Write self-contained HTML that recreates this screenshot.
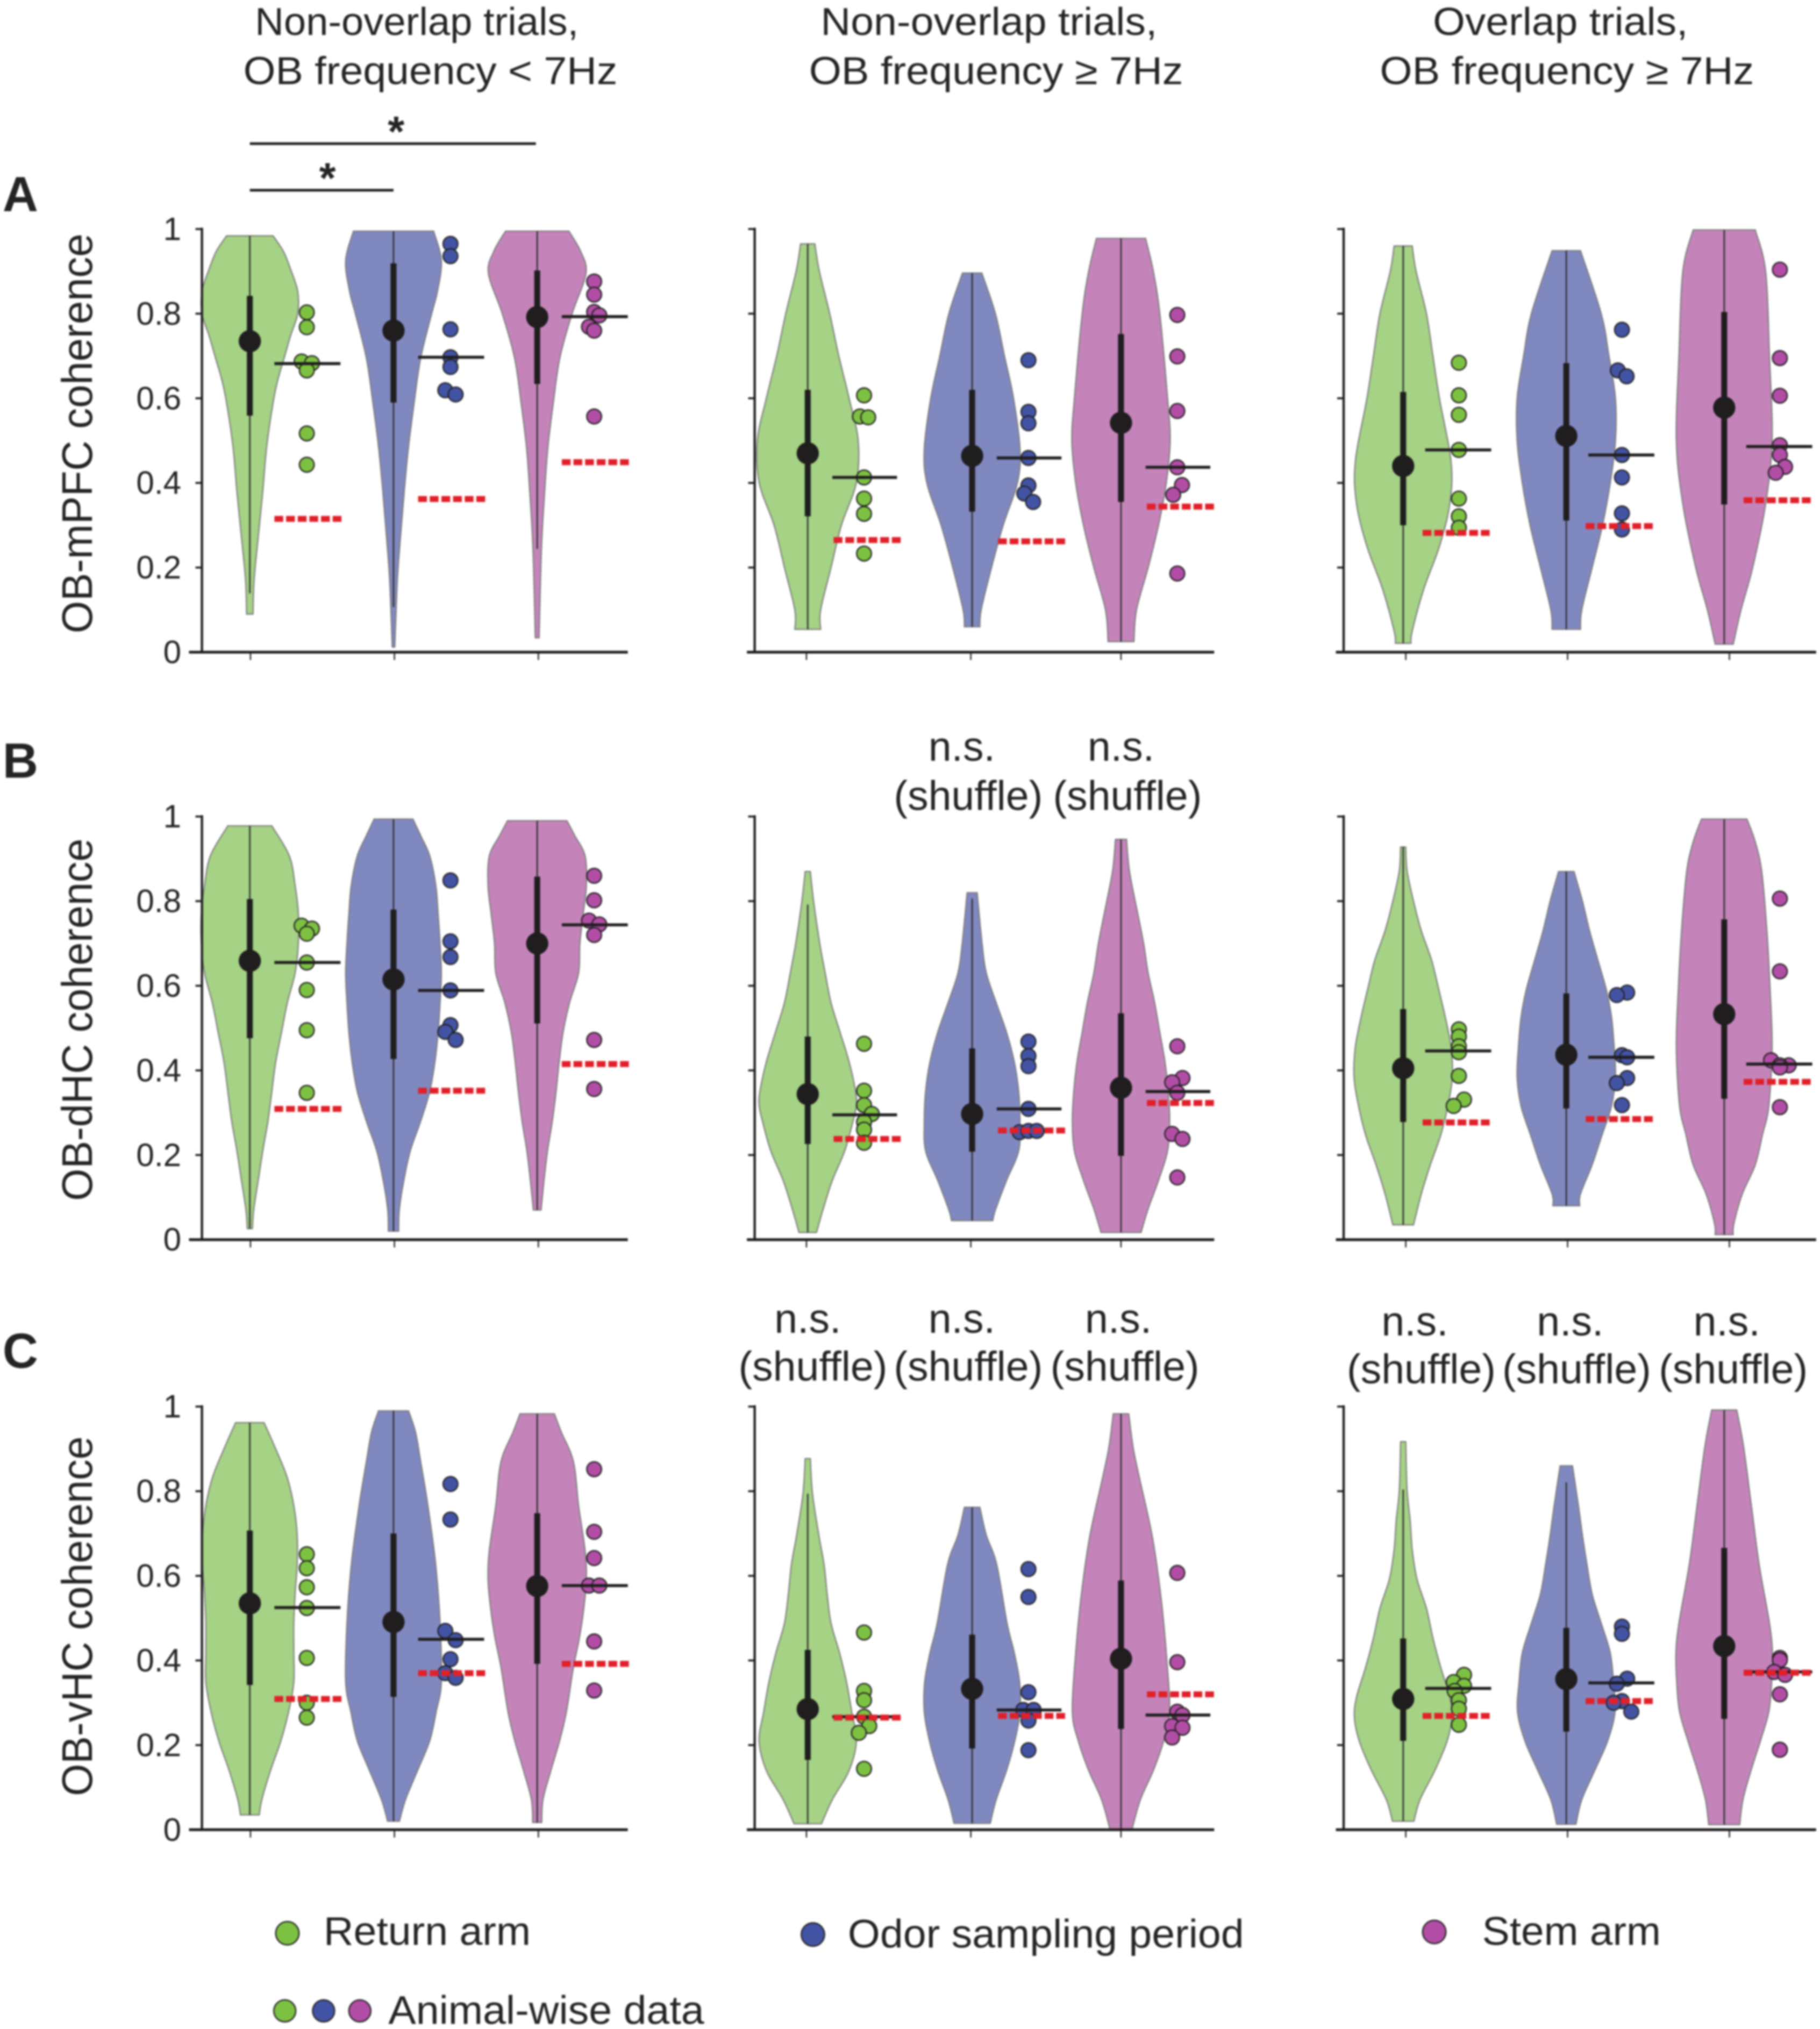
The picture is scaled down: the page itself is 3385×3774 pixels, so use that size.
<!DOCTYPE html>
<html lang="en">
<head>
<meta charset="utf-8">
<title>OB coherence violin plots</title>
<style>
html,body{margin:0;padding:0;background:#fff;}
svg{display:block;filter:blur(1.5px);}
text{font-family:"Liberation Sans",sans-serif;fill:#262324;}
</style>
</head>
<body>
<svg id="chart" xmlns="http://www.w3.org/2000/svg" width="3385" height="3774" viewBox="0 0 1406 1568" preserveAspectRatio="none">
<rect x="0" y="0" width="1406" height="1568" fill="#fff"/>
<g font-size="30">
<text x="197" y="27" textLength="250" lengthAdjust="spacingAndGlyphs">Non-overlap trials,</text>
<text x="188" y="65" textLength="289" lengthAdjust="spacingAndGlyphs">OB frequency &lt; 7Hz</text>
<text x="634" y="27" textLength="260" lengthAdjust="spacingAndGlyphs">Non-overlap trials,</text>
<text x="625" y="65" textLength="289" lengthAdjust="spacingAndGlyphs">OB frequency ≥ 7Hz</text>
<text x="1107" y="27" textLength="197" lengthAdjust="spacingAndGlyphs">Overlap trials,</text>
<text x="1066" y="65" textLength="289" lengthAdjust="spacingAndGlyphs">OB frequency ≥ 7Hz</text>
</g>
<g font-size="38" font-weight="700">
<text x="2" y="163">A</text>
<text x="2" y="601">B</text>
<text x="2" y="1057">C</text>
</g>
<g>
<line x1="193" y1="111" x2="414" y2="111" stroke="#1f1d1e" stroke-width="2"/>
<line x1="193" y1="147" x2="304" y2="147" stroke="#1f1d1e" stroke-width="2"/>
<text x="306" y="113" font-size="33" font-weight="700" text-anchor="middle">*</text>
<text x="253" y="149" font-size="33" font-weight="700" text-anchor="middle">*</text>
</g>
<g font-size="32" text-anchor="middle">
<text x="743" y="588">n.s.</text>
<text x="748" y="626">(shuffle)</text>
<text x="866" y="588">n.s.</text>
<text x="871" y="626">(shuffle)</text>
<text x="624" y="1030">n.s.</text>
<text x="628" y="1067">(shuffle)</text>
<text x="743" y="1030">n.s.</text>
<text x="748" y="1067">(shuffle)</text>
<text x="864" y="1030">n.s.</text>
<text x="869" y="1067">(shuffle)</text>
<text x="1093" y="1032">n.s.</text>
<text x="1098" y="1069">(shuffle)</text>
<text x="1213" y="1032">n.s.</text>
<text x="1218" y="1069">(shuffle)</text>
<text x="1334" y="1032">n.s.</text>
<text x="1339" y="1069">(shuffle)</text>
</g>
<g font-size="31">
<circle cx="222" cy="1494" r="9" fill="#7dc142" stroke="#222" stroke-width="1"/>
<text x="250" y="1503" textLength="160" lengthAdjust="spacingAndGlyphs">Return arm</text>
<circle cx="628" cy="1495" r="9" fill="#4353a4" stroke="#222" stroke-width="1"/>
<text x="655" y="1505" textLength="306" lengthAdjust="spacingAndGlyphs">Odor sampling period</text>
<circle cx="1108" cy="1493" r="9" fill="#b24da5" stroke="#222" stroke-width="1"/>
<text x="1145" y="1503" textLength="138" lengthAdjust="spacingAndGlyphs">Stem arm</text>
<circle cx="220" cy="1554" r="8.5" fill="#7dc142" stroke="#222" stroke-width="1"/>
<circle cx="250" cy="1554" r="8.5" fill="#4353a4" stroke="#222" stroke-width="1"/>
<circle cx="278" cy="1554" r="8.5" fill="#b24da5" stroke="#222" stroke-width="1"/>
<text x="300" y="1564" textLength="244" lengthAdjust="spacingAndGlyphs">Animal-wise data</text>
</g>
<g id="panels"></g>
</svg>
<script>
const categories = ['return-arm', 'odor-sampling', 'stem-arm'];
const regionTitles = ['OB-mPFC coherence', 'OB-dHC coherence', 'OB-vHC coherence'];
const tickValues = [0, 0.2, 0.4, 0.6, 0.8, 1];
const tickLabels = ['0', '0.2', '0.4', '0.6', '0.8', '1'];

// All per-group arrays are indexed [row][column][category]
const medians = [
  [[.735,.76,.792],[.47,.464,.542],[.44,.511,.578]],
  [[.659,.615,.70],[.344,.297,.359],[.405,.437,.533]],
  [[.535,.491,.576],[.285,.333,.404],[.309,.356,.434]]
];
const upperQuartiles = [
  [[.842,.919,.902],[.62,.62,.752],[.615,.683,.804]],
  [[.805,.78,.858],[.48,.452,.535],[.545,.582,.757]],
  [[.707,.70,.748],[.425,.461,.589],[.452,.477,.666]]
];
const lowerQuartiles = [
  [[.559,.59,.634],[.321,.332,.355],[.30,.311,.349]],
  [[.476,.427,.511],[.226,.208,.198],[.278,.31,.333]],
  [[.342,.314,.392],[.165,.192,.238],[.21,.232,.262]]
];
const whiskerHighs = [
  [[.984,.995,.995],[.965,.896,.978],[.96,.949,.998]],
  [[.978,.994,.99],[.792,.806,.946],[.928,.87,.994]],
  [[.962,.99,.983],[.794,.762,.983],[.804,.821,.992]]
];
const whiskerLows = [
  [[.139,.107,.244],[.054,.06,.025],[.021,.054,.019]],
  [[.026,.02,.07],[.017,.045,.017],[.035,.08,.012]],
  [[.035,.02,.017],[.014,.015,.002],[.02,.013,.012]]
];
const animalMeans = [
  [[.682,.697,.793],[.413,.459,.437],[.478,.466,.486]],
  [[.655,.589,.744],[.295,.309,.35],[.446,.431,.415]],
  [[.525,.45,.577],[.267,.283,.271],[.334,.347,.373]]
];
const shuffleLevels = [
  [[.315,.362,.449],[.265,.262,.344],[.282,.298,.359]],
  [[.309,.352,.415],[.238,.258,.323],[.277,.285,.373]],
  [[.309,.37,.392],[.265,.269,.32],[.269,.304,.371]]
];
const animalDots = [
  [
    [[.803,.768,.687,.683,.666,.517,.443],[.965,.936,.763,.697,.674,.619,.609],[.876,.845,.804,.796,.769,.76,.557]],
    [[.607,.557,.555,.413,.363,.327,.233],[.69,.568,.541,.459,.394,.375,.355],[.797,.699,.57,.437,.395,.372,.186]],
    [[.684,.607,.561,.478,.363,.321,.294],[.762,.666,.652,.466,.413,.328,.29],[.904,.695,.606,.489,.466,.438,.424]]
  ],
  [
    [[.742,.735,.723,.655,.59,.495,.347],[.849,.705,.668,.589,.507,.491,.472],[.86,.802,.754,.745,.72,.472,.356]],
    [[.463,.352,.318,.297,.278,.26,.229],[.468,.434,.41,.309,.254,.257,.257],[.457,.382,.372,.347,.25,.238,.147]],
    [[.497,.48,.457,.443,.387,.331,.316],[.584,.578,.436,.431,.382,.37,.318],[.806,.634,.424,.412,.412,.407,.313]]
  ],
  [
    [[.651,.618,.573,.524,.406,.30,.265],[.817,.733,.47,.448,.403,.37,.359],[.852,.704,.642,.577,.577,.445,.329]],
    [[.466,.328,.306,.267,.245,.229,.144],[.616,.55,.325,.283,.283,.258,.188],[.607,.396,.279,.271,.245,.241,.218]],
    [[.366,.349,.34,.328,.306,.286,.248],[.48,.463,.357,.345,.304,.30,.279],[.406,.401,.373,.366,.32,.189,.189]]
  ]
];
// Sideways swarm slot of each animal dot (-1 left, 0 centre, 1 right)
const dotSides = [
  [
    [[0,0,-1,1,0,0,0],[0,0,0,0,0,-1,1],[0,0,0,1,-1,0,0]],
    [[0,-.8,.8,0,0,0,0],[0,0,0,0,0,-.8,.9],[0,0,0,0,.9,-.8,0]],
    [[0,0,0,0,0,0,0],[0,-.8,.9,0,0,0,0],[0,0,0,0,0,1,-.8]]
  ],
  [
    [[-1,1,0,0,0,0,0],[0,0,0,0,0,-1,1],[0,0,-1,1,0,0,0]],
    [[0,0,0,1.5,0,0,0],[0,0,0,0,-1.7,0,1.6],[0,1,-1,0,-1,1,0]],
    [[0,0,0,0,0,1,-1],[1,-1,0,1,1,-1,0],[0,0,-1.7,1.7,0,0,0]]
  ],
  [
    [[0,0,0,0,0,0,0],[0,0,-1,1,0,-1,1],[0,0,0,-1,1,0,0]],
    [[0,0,0,0,1,-1,0],[0,0,0,-1,1,0,0],[0,0,0,1,-1,1,-1]],
    [[1,-1,1,-.8,0,0,0],[0,0,1,-1,0,-1.6,1.8],[0,0,-1.1,1,0,0,0]]
  ]
];
// Kernel density outlines: [coherence, density] from the top of each violin to the bottom
const densityCurves = [
  [
    [
      [[.984,18],[.947,26],[.905,31.5],[.853,37],[.80,37],[.748,31.5],[.695,26.5],[.643,21.6],[.59,18],[.485,13],[.38,10],[.275,6.6],[.17,3.3],[.09,2.5]],
      [[.995,31],[.926,37],[.853,34],[.80,29.5],[.695,21],[.59,16],[.485,11.6],[.38,8.3],[.275,5.5],[.17,3],[.012,1]],
      [[.995,24.5],[.947,33.6],[.895,37.7],[.80,27],[.695,17.5],[.59,12.5],[.485,8.3],[.38,5.8],[.244,3.3],[.034,1.5]]
    ],
    [
      [[.965,5.5],[.9,9],[.8,17],[.7,24],[.6,32],[.5,39],[.4,37.5],[.3,26],[.2,18],[.1,10],[.054,10]],
      [[.896,7.5],[.8,18],[.7,25],[.6,32],[.48,37],[.4,35],[.3,24],[.2,15],[.1,7],[.06,6]],
      [[.978,19],[.9,25],[.8,30],[.6,36],[.5,38],[.4,35],[.3,29],[.2,21],[.1,12],[.025,10]]
    ],
    [
      [[.96,7],[.9,10],[.8,18],[.7,23],[.6,28],[.45,37],[.35,36],[.25,28],[.15,16],[.05,7],[.021,6]],
      [[.949,11],[.8,27],[.7,33],[.6,38],[.5,38],[.4,34],[.3,28],[.2,20],[.1,12],[.054,11]],
      [[.998,24],[.9,32],[.7,35],[.5,37],[.35,32],[.2,22],[.1,13],[.019,7]]
    ]
  ],
  [
    [
      [[.978,17],[.907,30.5],[.837,35],[.77,37.5],[.70,37.5],[.63,35],[.56,29],[.49,24.5],[.42,20],[.35,17],[.28,14],[.21,10],[.14,6.5],[.07,3],[.026,2]],
      [[.994,15],[.955,21],[.907,28],[.837,32.7],[.77,34.5],[.70,36],[.63,37],[.56,36],[.49,34.5],[.42,32],[.35,28],[.28,21],[.21,13],[.14,8],[.07,4.5],[.02,4]],
      [[.99,23],[.955,29],[.907,37],[.837,38],[.77,35.6],[.70,33],[.63,32],[.56,25],[.49,20],[.42,17],[.35,14.6],[.28,11.7],[.21,8],[.14,5.3],[.07,3]]
    ],
    [
      [[.87,2],[.796,4.7],[.70,9.3],[.63,13.5],[.56,18],[.49,25],[.42,32],[.35,37],[.316,37.5],[.28,35],[.21,28.6],[.14,19],[.073,12],[.017,6.8]],
      [[.82,3.9],[.70,7.7],[.63,11],[.56,18.6],[.49,26.6],[.42,32.6],[.35,36],[.28,37],[.21,36],[.14,26.6],[.07,18],[.045,16]],
      [[.946,4.3],[.87,6.6],[.77,13],[.70,17.5],[.63,21],[.56,26],[.49,30],[.42,34],[.35,36.5],[.28,37.6],[.21,36],[.14,29],[.073,21],[.017,15.5]]
    ],
    [
      [[.928,2],[.872,3],[.80,8],[.73,14],[.66,22],[.59,27.6],[.525,32.6],[.455,37],[.385,38],[.316,34.5],[.247,29],[.177,21],[.108,14],[.035,8]],
      [[.87,6],[.80,12.5],[.73,18],[.66,24.5],[.59,31],[.525,35],[.455,37],[.385,38],[.316,35],[.247,27.6],[.177,20],[.108,11],[.08,10.4]],
      [[.994,17.6],[.94,24],[.87,29],[.73,33],[.59,35.5],[.455,37],[.316,34.5],[.247,29.5],[.177,24],[.108,14],[.038,7.5],[.012,7]]
    ]
  ],
  [
    [
      [[.962,11],[.905,19.3],[.835,28.6],[.766,34],[.696,36.6],[.627,36.6],[.557,35],[.488,34],[.418,34],[.349,34],[.279,30],[.21,24],[.14,16],[.071,9.3],[.035,7.3]],
      [[.99,11.6],[.94,17],[.87,21],[.766,26.6],[.627,32.6],[.488,36],[.349,37],[.279,33],[.21,28],[.14,18.6],[.071,9.3],[.02,4.6]],
      [[.983,13.3],[.94,18.6],[.87,28],[.766,32],[.66,37],[.592,38],[.523,36],[.453,32.6],[.384,28],[.279,22.6],[.21,17.3],[.14,10.6],[.071,4.5],[.017,3.5]]
    ],
    [
      [[.877,2],[.794,3.7],[.696,8.6],[.627,12.6],[.557,15],[.488,18],[.418,24.6],[.349,30],[.279,34],[.21,37.6],[.14,32],[.071,19],[.014,10.6]],
      [[.762,6],[.696,11],[.627,19],[.488,27],[.418,32.6],[.349,36.7],[.279,37],[.21,33],[.14,26.6],[.071,18.6],[.015,14]],
      [[.983,6],[.905,9.3],[.835,14],[.696,24],[.557,30.6],[.418,35],[.279,37.6],[.21,33],[.14,25],[.071,15],[.002,8.6]]
    ],
    [
      [[.917,2],[.804,3],[.731,5.4],[.662,7],[.592,10.7],[.523,18],[.453,23],[.384,29],[.314,36],[.266,37.7],[.21,34],[.14,24.5],[.071,13],[.02,8.3]],
      [[.86,4.8],[.766,9.4],[.696,12.5],[.627,16],[.557,20],[.488,27],[.418,34],[.349,36.5],[.279,37.7],[.21,32],[.14,22],[.071,12],[.013,7.5]],
      [[.992,9.7],[.905,15],[.766,21],[.627,27],[.488,35],[.418,37.3],[.349,36.7],[.279,34.5],[.21,28],[.14,20.7],[.071,14.5],[.012,12]]
    ]
  ]
];

const NS = 'http://www.w3.org/2000/svg';
const panelsRoot = document.getElementById('panels');

function rowBaseline(row) {
  if (row === 0) return 504;
  if (row === 1) return 958;
  return 1414;
}
function yScale(row, value) {
  return rowBaseline(row) - value * 327;
}
function titleBox(row) {
  if (row === 0) return {mid: 335, len: 309};
  if (row === 1) return {mid: 788, len: 280};
  return {mid: 1249, len: 278};
}
function columnFrame(col) {
  if (col === 0) return {axis: 156, left: 146, right: 485, dot: 44, meanA: 19, meanB: 70, redA: 19, redB: 72};
  if (col === 1) return {axis: 583, left: 577, right: 938, dot: 43.5, meanA: 19, meanB: 69, redA: 20, redB: 74};
  return {axis: 1038, left: 1032, right: 1403, dot: 43, meanA: 17, meanB: 68, redA: 15, redB: 69};
}
function xCategory(col, cat) {
  if (col === 0) return 193 + cat * 111;
  if (col === 1) return cat === 0 ? 624 : (cat === 1 ? 751 : 866);
  return cat === 0 ? 1084 : (cat === 1 ? 1210 : 1332);
}
function xTick(col, cat) {
  if (col === 0) return 193.5 + cat * 111.2;
  if (col === 1) return cat === 0 ? 623 : (cat === 1 ? 750 : 866);
  return cat === 0 ? 1086 : (cat === 1 ? 1211 : 1336);
}
function fillColor(cat) {
  return cat === 0 ? '#a5d285' : (cat === 1 ? '#8088c0' : '#c484ba');
}
function dotColor(cat) {
  return cat === 0 ? '#7dc142' : (cat === 1 ? '#4353a4' : '#b24da5');
}
function make(tag, attrs, parent) {
  const el = document.createElementNS(NS, tag);
  Object.keys(attrs).forEach(function (k) { el.setAttribute(k, attrs[k]); });
  parent.appendChild(el);
  return el;
}
function splineThrough(pts) {
  let d = '';
  for (let i = 0; i < pts.length - 1; i++) {
    const p0 = pts[Math.max(i - 1, 0)];
    const p1 = pts[i];
    const p2 = pts[i + 1];
    const p3 = pts[Math.min(i + 2, pts.length - 1)];
    const c1x = p1[0] + (p2[0] - p0[0]) / 6;
    const c1y = p1[1] + (p2[1] - p0[1]) / 6;
    const c2x = p2[0] - (p3[0] - p1[0]) / 6;
    const c2y = p2[1] - (p3[1] - p1[1]) / 6;
    d += 'C' + c1x.toFixed(2) + ' ' + c1y.toFixed(2) + ' ' + c2x.toFixed(2) + ' ' + c2y.toFixed(2) + ' ' + p2[0].toFixed(2) + ' ' + p2[1].toFixed(2);
  }
  return d;
}
function violinPath(row, cx, curve) {
  const right = curve.map(function (p) { return [cx + p[1], yScale(row, p[0])]; });
  const left = curve.map(function (p) { return [cx - p[1], yScale(row, p[0])]; }).reverse();
  return 'M' + left[left.length - 1][0].toFixed(2) + ' ' + left[left.length - 1][1].toFixed(2) +
    'L' + right[0][0].toFixed(2) + ' ' + right[0][1].toFixed(2) + splineThrough(right) +
    'L' + left[0][0].toFixed(2) + ' ' + left[0][1].toFixed(2) + splineThrough(left) + 'Z';
}

regionTitles.forEach(function (title, row) {
  const box0 = titleBox(row);
  const label = make('text', {'font-size': 33, 'text-anchor': 'middle', textLength: box0.len, lengthAdjust: 'spacingAndGlyphs', transform: 'translate(71 ' + box0.mid + ') rotate(-90)'}, panelsRoot);
  
  
  label.textContent = title;

  for (let col = 0; col < 3; col++) {
    const frame = columnFrame(col);
    const panel = make('g', {}, panelsRoot);
    
    

    categories.forEach(function (catName, cat) {
      const cx = xCategory(col, cat);
      const group = make('g', {}, panel);
      
      

      const body = make('path', {d: violinPath(row, cx, densityCurves[row][col][cat]), fill: fillColor(cat), stroke: '#7a7a7a', 'stroke-width': 0.9}, group);
      
      

      const whisker = make('line', {x1: cx, x2: cx, y1: yScale(row, whiskerHighs[row][col][cat]), y2: yScale(row, whiskerLows[row][col][cat]), stroke: '#2f2f2f', 'stroke-width': 1.1}, group);
      
      

      const box = make('line', {x1: cx, x2: cx, y1: yScale(row, upperQuartiles[row][col][cat]), y2: yScale(row, lowerQuartiles[row][col][cat]), stroke: '#1f1d1e', 'stroke-width': 4.6}, group);
      
      

      const median = make('circle', {cx: cx, cy: yScale(row, medians[row][col][cat]), r: 8.6, fill: '#1f1d1e'}, group);
      
      

      animalDots[row][col][cat].forEach(function (value, i) {
        const dot = make('circle', {cx: cx + frame.dot + dotSides[row][col][cat][i] * 4, cy: yScale(row, value), r: 5.7, fill: dotColor(cat), stroke: '#222', 'stroke-width': 1}, group);
        
        
      });

      const mean = make('line', {x1: cx + frame.meanA, x2: cx + frame.meanB, y1: yScale(row, animalMeans[row][col][cat]), y2: yScale(row, animalMeans[row][col][cat]), stroke: '#1f1d1e', 'stroke-width': 2.3}, group);
      
      

      const shuffle = make('line', {x1: cx + frame.redA, x2: cx + frame.redB, y1: yScale(row, shuffleLevels[row][col][cat]), y2: yScale(row, shuffleLevels[row][col][cat]), stroke: '#e0202a', 'stroke-width': 4.6, 'stroke-dasharray': '6.8 2.2'}, group);
      
      
    });

    const yAxis = make('line', {x1: frame.axis, x2: frame.axis, y1: yScale(row, 1) - 1, y2: yScale(row, 0), stroke: '#1f1d1e', 'stroke-width': 1.8}, panel);
    
    

    const xAxis = make('line', {x1: frame.left, x2: frame.right, y1: yScale(row, 0), y2: yScale(row, 0), stroke: '#1f1d1e', 'stroke-width': 2.1}, panel);
    
    

    tickValues.forEach(function (value, i) {
      const tick = make('line', {x1: frame.axis - 5, x2: frame.axis, y1: yScale(row, value), y2: yScale(row, value), stroke: '#1f1d1e', 'stroke-width': 1.5}, panel);
      
      
      if (col === 0) {
        const tl = make('text', {x: 140, y: yScale(row, value) + 8.5, 'font-size': 25, 'text-anchor': 'end'}, panel);
        
        
        tl.textContent = tickLabels[i];
      }
    });

    categories.forEach(function (catName, cat) {
      const tx = xTick(col, cat);
      const tick = make('line', {x1: tx, x2: tx, y1: yScale(row, 0), y2: yScale(row, 0) + 6, stroke: '#1f1d1e', 'stroke-width': 1}, panel);
      
      
    });
  }
});
</script>
</body>
</html>
